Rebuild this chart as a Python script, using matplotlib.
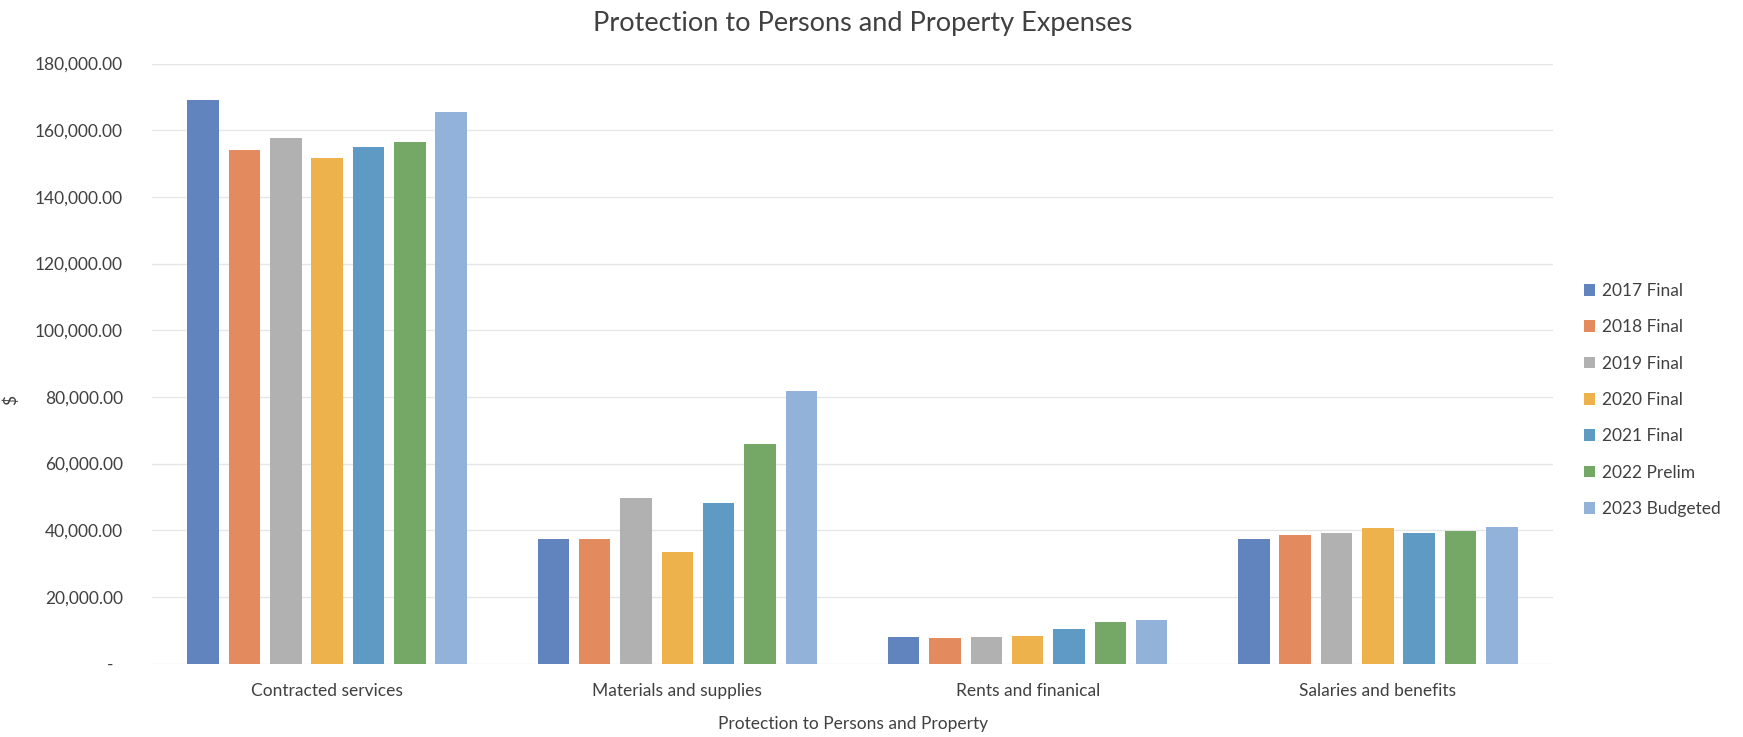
import matplotlib
matplotlib.use("Agg")
import matplotlib.pyplot as plt
import numpy as np
from matplotlib.ticker import FuncFormatter, MultipleLocator

plt.rcParams['font.family'] = ['Lato', 'DejaVu Sans']

categories = ["Contracted services", "Materials and supplies", "Rents and finanical", "Salaries and benefits"]
series_names = ["2017 Final", "2018 Final", "2019 Final", "2020 Final", "2021 Final", "2022 Prelim", "2023 Budgeted"]

final_2017 = [169000, 37300, 7900, 37500]
final_2018 = [154000, 37400, 7600, 38500]
final_2019 = [157600, 49700, 7900, 39200]
final_2020 = [151700, 33400, 8200, 40600]
final_2021 = [155100, 48100, 10400, 39300]
prelim_2022 = [156500, 65800, 12500, 39700]
budget_2023 = [165400, 81900, 13200, 41100]

series_values = [final_2017, final_2018, final_2019, final_2020, final_2021, prelim_2022, budget_2023]
colors = ["#6184bf", "#e38b5e", "#b1b1b1", "#eeb24c", "#5f9ac4", "#75a866", "#93b2da"]

W, H = 1743, 737
fig = plt.figure(figsize=(W / 100, H / 100), dpi=100)
ax = fig.add_axes([152 / W, 1 - 663.6 / H, (1553 - 152) / W, 600 / H])

x = np.arange(len(categories))
pitch = 0.118
width = 0.09
for i, (name, vals, c) in enumerate(zip(series_names, series_values, colors)):
    ax.bar(x + (i - 3) * pitch, vals, width=width, color=c, label=name, zorder=3)

ax.set_xlim(-0.5, len(categories) - 0.5)
ax.set_ylim(0, 180000)
ax.yaxis.set_major_locator(MultipleLocator(20000))


def money(v, pos):
    # accounting style: zero shown as a dash
    if v == 0:
        return "-  "
    return f"{v:,.2f}"


ax.yaxis.set_major_formatter(FuncFormatter(money))
ax.grid(axis='y', color='#e6e6e6', linewidth=1.0, zorder=0)
for s in ax.spines.values():
    s.set_visible(False)
ax.tick_params(axis='both', length=0, colors='#404040', labelsize=12.5)
ax.tick_params(axis='y', pad=21)
ax.tick_params(axis='x', pad=14)
ax.set_xticks(x)
ax.set_xticklabels(categories)

fig.text(863 / W, 1 - 24 / H, "Protection to Persons and Property Expenses",
         ha='center', va='center', fontsize=19.5, color='#404040')
fig.text(853 / W, 1 - 724 / H, "Protection to Persons and Property",
         ha='center', va='center', fontsize=12.5, color='#404040')
fig.text(11 / W, 1 - 400 / H, "$", ha='center', va='center', rotation=90,
         fontsize=12.5, color='#404040')

leg = ax.legend(loc='upper left', bbox_to_anchor=(1584 / W, 1 - 283 / H),
                bbox_transform=fig.transFigure, frameon=False, fontsize=12.5,
                handlelength=0.65, handleheight=0.65, handletextpad=0.4,
                labelspacing=1.17, borderpad=0, borderaxespad=0)
for t in leg.get_texts():
    t.set_color('#404040')

fig.savefig("out.png", dpi=100, facecolor='white')
